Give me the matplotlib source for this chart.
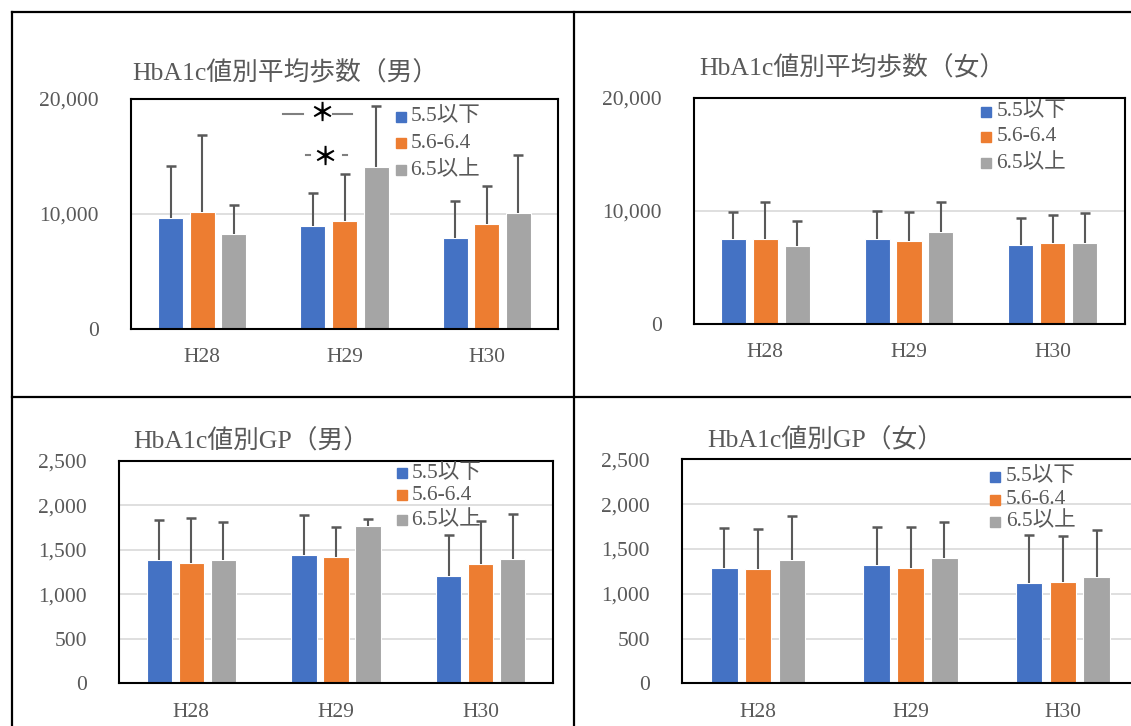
import matplotlib
matplotlib.use("Agg")
import matplotlib.pyplot as plt
from matplotlib.patches import Rectangle
from matplotlib.lines import Line2D
import numpy as np

# ---- data ----------------------------------------------------------------
years = ["H28", "H29", "H30"]
groups = ["5.5以下", "5.6-6.4", "6.5以上"]
colors = ["#4472C4", "#ED7D31", "#A5A5A5"]

# mean daily steps, men (rows: HbA1c group, cols: year)
steps_male_mean = [[9650, 9000, 7900],
                   [10150, 9400, 9100],
                   [8250, 14100, 10100]]
steps_male_sd = [[4550, 2850, 3200],
                 [6750, 4050, 3300],
                 [2550, 5250, 5050]]

# mean daily steps, women
steps_female_mean = [[7480, 7480, 6980],
                     [7510, 7330, 7160],
                     [6890, 8100, 7190]]
steps_female_sd = [[2450, 2510, 2360],
                   [3330, 2570, 2530],
                   [2210, 2680, 2650]]

# GP, men
gp_male_mean = [[1380, 1440, 1205],
                [1347, 1415, 1336],
                [1385, 1763, 1392]]
gp_male_sd = [[454, 450, 461],
              [506, 340, 487],
              [430, 82, 505]]

# GP, women
gp_female_mean = [[1287, 1317, 1123],
                  [1280, 1287, 1131],
                  [1380, 1395, 1190]]
gp_female_sd = [[443, 424, 536],
                [439, 461, 509],
                [488, 409, 521]]

# ---- figure ----------------------------------------------------------------
W, H = 1131, 726
FONT = ["Liberation Serif", "Noto Sans CJK JP"]
plt.rcParams["font.family"] = FONT
TXT = "#595959"

fig = plt.figure(figsize=(W / 100, H / 100), dpi=100)


def fx(x):
    return x / W


def fy(y):
    return 1 - y / H


def add_axes_px(l, t, r, b):
    return fig.add_axes([fx(l), fy(b), (r - l) / W, (b - t) / H])


# table rules around the four charts
for xs, ys in [((12, W), (12, 12)), ((12, W), (397, 397)),
               ((12, 12), (12, H)), ((574, 574), (12, H))]:
    fig.add_artist(Line2D([fx(v) for v in xs], [fy(v) for v in ys],
                          transform=fig.transFigure, color="black", lw=1.6))

panels = [
    dict(title="HbA1c値別平均歩数（男）", box=(131, 99, 558, 329), ymax=20000, step=10000,
         mean=steps_male_mean, sd=steps_male_sd, title_xy=(132, 73),
         legend=(396, 410.6, [116.7, 143.3, 170])),
    dict(title="HbA1c値別平均歩数（女）", box=(693.5, 98, 1124.5, 324), ymax=20000, step=10000,
         mean=steps_female_mean, sd=steps_female_sd, title_xy=(699, 68),
         legend=(980.5, 996.5, [111.7, 136.7, 163.3])),
    dict(title="HbA1c値別GP（男）", box=(119, 460.7, 553, 683.3), ymax=2500, step=500,
         mean=gp_male_mean, sd=gp_male_sd, title_xy=(133, 441.7),
         legend=(396.6, 411.4, [473.3, 495, 520])),
    dict(title="HbA1c値別GP（女）", box=(682, 459.3, 1139, 683.3), ymax=2500, step=500,
         mean=gp_female_mean, sd=gp_female_sd, title_xy=(707, 440),
         legend=(990.4, 1005.8, [476.7, 500, 521.7])),
]

offsets = [-0.222, 0.0, 0.222]
bar_w = 0.175
axes = []
for p in panels:
    ax = add_axes_px(*p["box"])
    axes.append(ax)
    x = np.arange(len(years))
    for i, c in enumerate(colors):
        xs = x + offsets[i]
        m = np.array(p["mean"][i])
        s = np.array(p["sd"][i])
        ax.bar(xs, m, width=bar_w, color=c, edgecolor="white", linewidth=0.8, zorder=2)
        # upper error bar only: stem plus a cap at the top end
        ax.errorbar(xs, m, yerr=[np.zeros_like(s), s], fmt="none", ecolor=TXT,
                    elinewidth=1.5, capsize=0, zorder=3)
        ax.plot(xs, m + s, ls="none", marker="_", ms=7.5, mew=1.8, color=TXT, zorder=3)
    ax.set_xlim(-0.5, 2.5)
    ax.set_ylim(0, p["ymax"])
    yt = np.arange(0, p["ymax"] + 1, p["step"])
    ax.set_yticks(yt)
    ax.set_yticklabels([f"{v:,}" for v in yt])
    ax.set_xticks(x)
    ax.set_xticklabels(years)
    ax.tick_params(axis="both", length=0, labelsize=15.5, colors=TXT)
    ax.tick_params(axis="y", pad=23)
    ax.tick_params(axis="x", pad=14)
    ax.yaxis.grid(True, color="#D9D9D9", lw=1.2, zorder=0)
    ax.set_axisbelow(True)
    for sp in ax.spines.values():
        sp.set_color("black")
        sp.set_linewidth(1.5)
        sp.set_zorder(5)
    fig.text(fx(p["title_xy"][0]), fy(p["title_xy"][1]), p["title"],
             fontsize=18.5, color=TXT, ha="left", va="center")
    sq_x, tx_x, rows = p["legend"]
    for c, g, ry in zip(colors, groups, rows):
        fig.add_artist(Rectangle((fx(sq_x), fy(ry + 5)), 10 / W, 10 / H,
                                 transform=fig.transFigure, color=c, zorder=6))
        fig.text(fx(tx_x), fy(ry), g, fontsize=15.5, color=TXT,
                 ha="left", va="center", zorder=6)

# significance marks on the men's step chart (H29)
ax = axes[0]
for x0, x1, y in [(0.569, 0.71, 18700), (0.92, 1.054, 18700),
                  (0.73, 0.76, 15130), (0.99, 1.02, 15130)]:
    ax.plot([x0, x1], [y, y], color="#7F7F7F", lw=1.5, zorder=4)
ax.text(0.843, 18700, "＊", ha="center", va="center", fontsize=18,
        fontweight="bold", color="black", family=["Noto Sans CJK JP"], zorder=4)
ax.text(0.864, 14900, "＊", ha="center", va="center", fontsize=18,
        fontweight="bold", color="black", family=["Noto Sans CJK JP"], zorder=4)

fig.savefig("out.png", dpi=100)
